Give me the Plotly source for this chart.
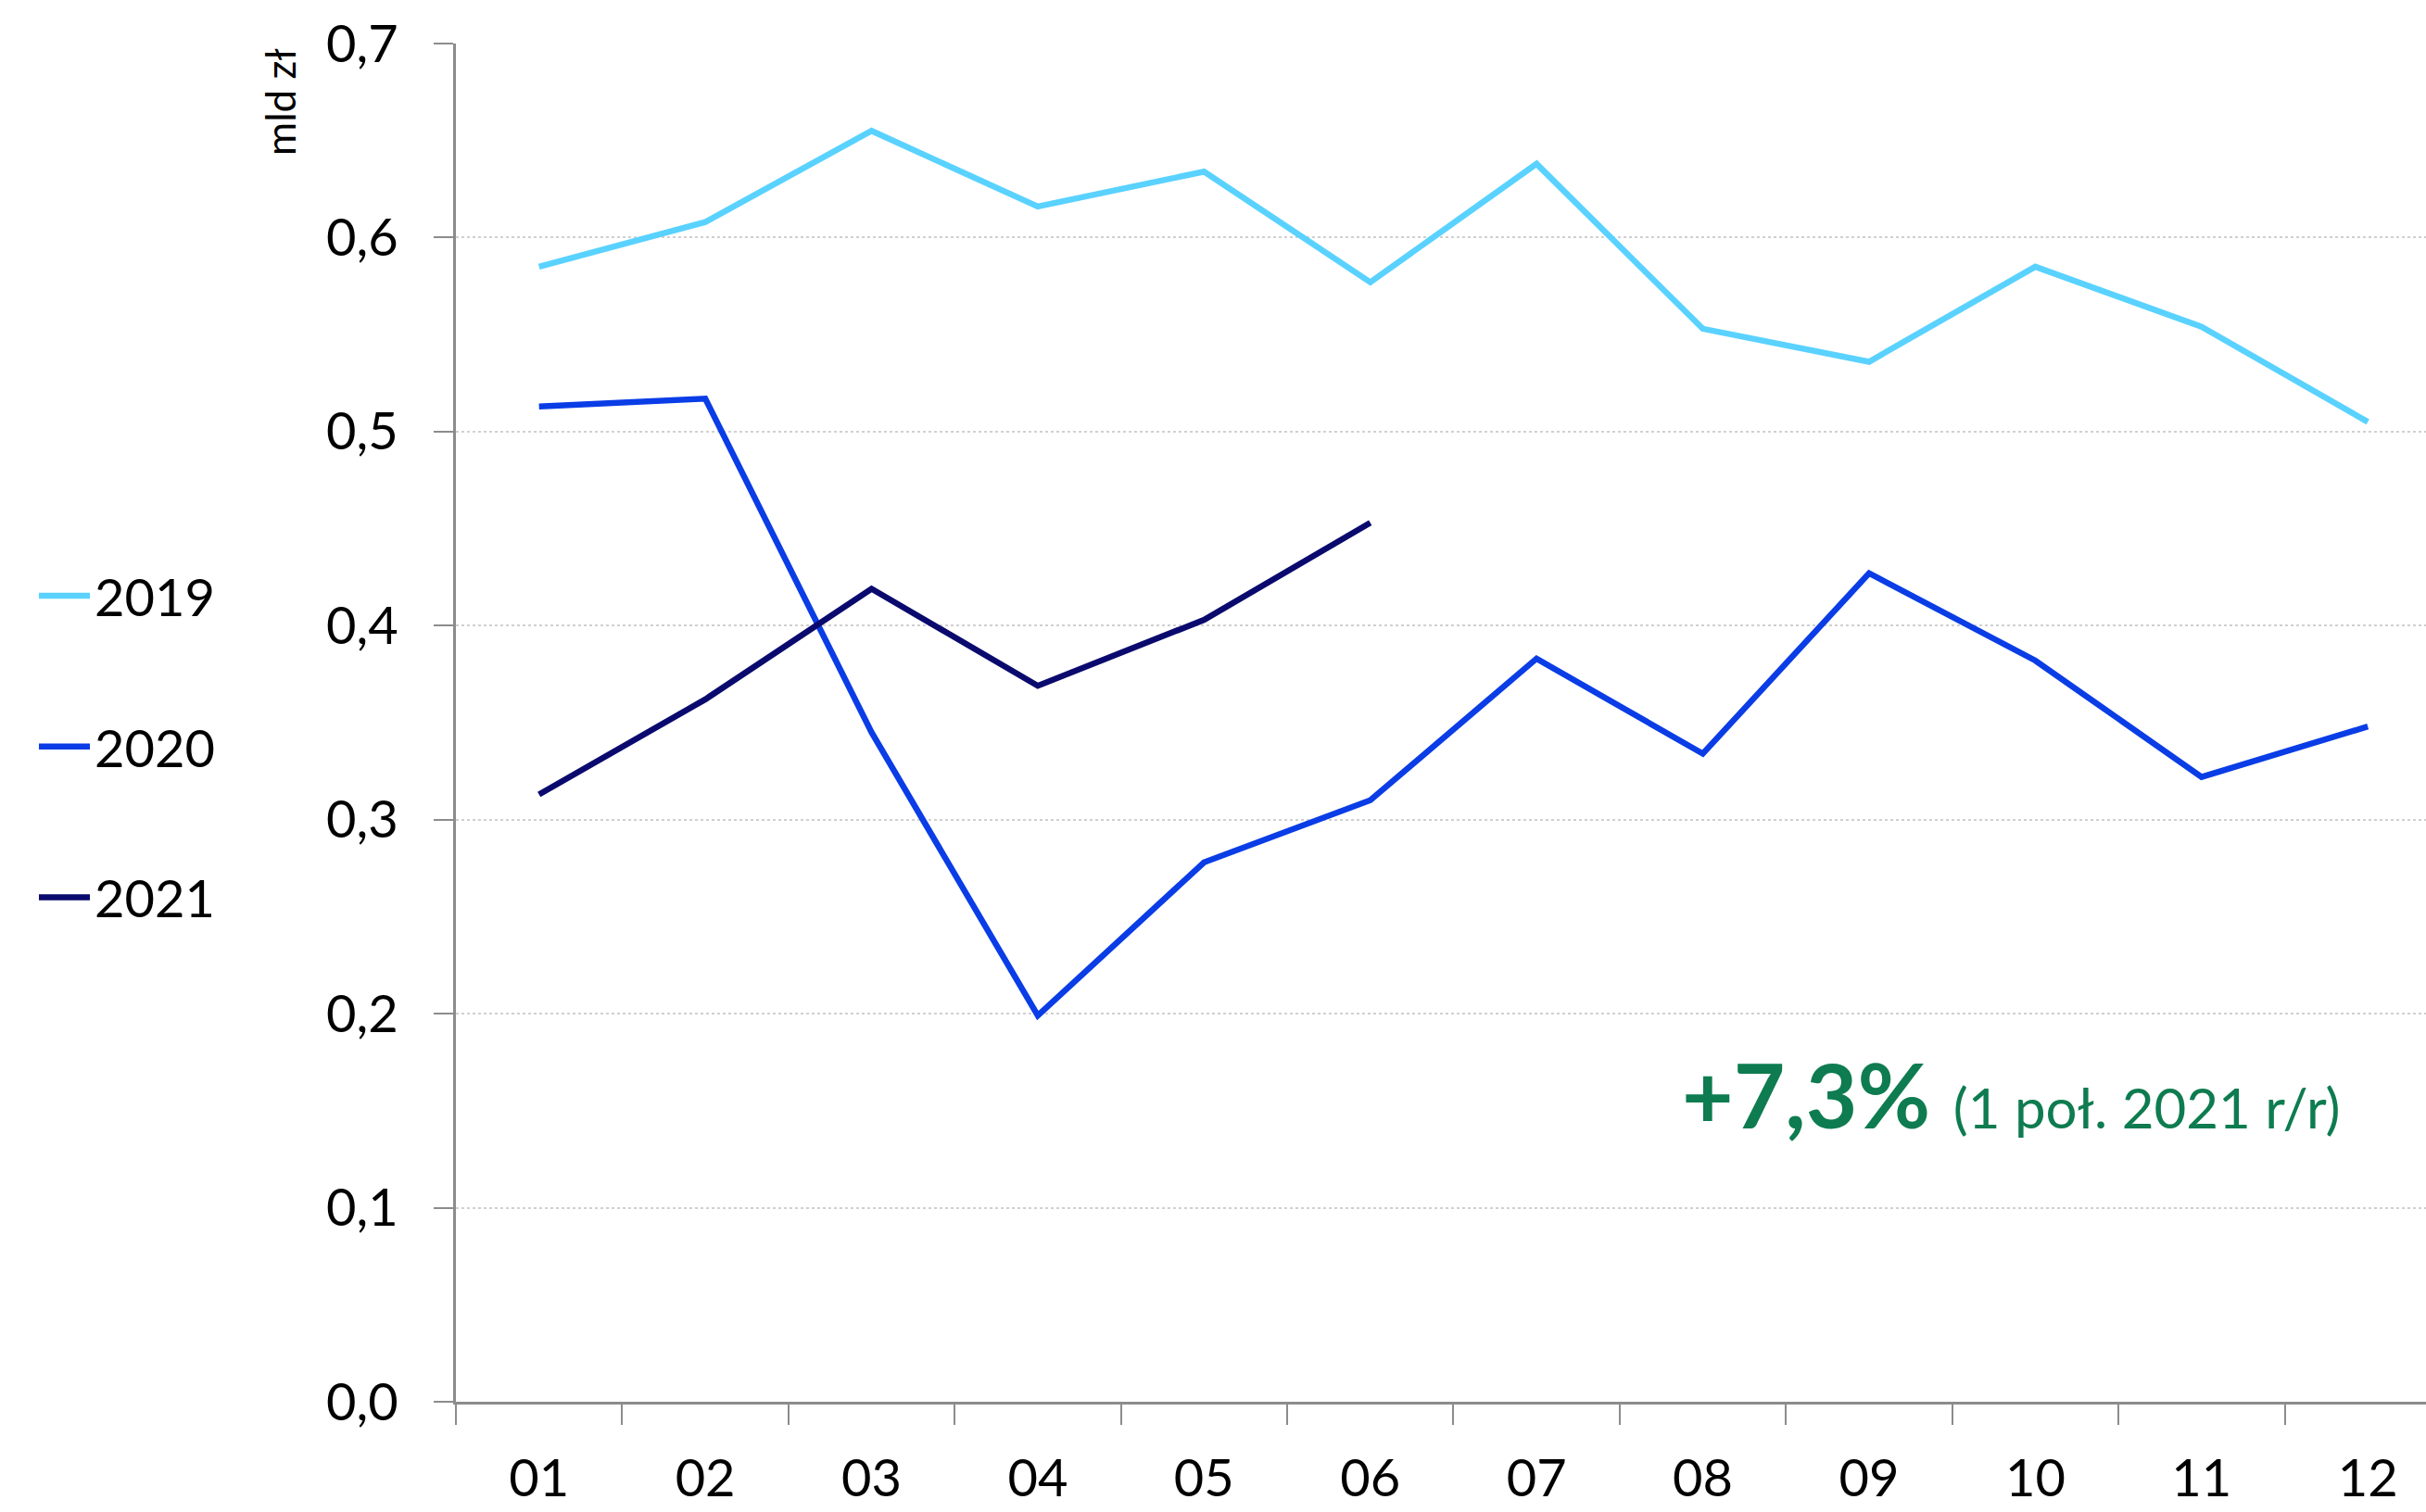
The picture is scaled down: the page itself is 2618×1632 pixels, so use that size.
import plotly.graph_objects as go

months = ["01", "02", "03", "04", "05", "06", "07", "08", "09", "10", "11", "12"]

y2019 = [0.585, 0.608, 0.655, 0.616, 0.634, 0.577, 0.638, 0.553, 0.536, 0.585, 0.554, 0.505]
y2020 = [0.513, 0.517, 0.345, 0.199, 0.278, 0.310, 0.383, 0.334, 0.427, 0.382, 0.322, 0.348]
y2021 = [0.313, 0.362, 0.419, 0.369, 0.403, 0.453]

y_ticks = [0.0, 0.1, 0.2, 0.3, 0.4, 0.5, 0.6, 0.7]
y_tick_labels = ["0,0", "0,1", "0,2", "0,3", "0,4", "0,5", "0,6", "0,7"]

FONT = "Lato"
W, H = 2618, 1632
ML, MR, MT, MB = 492, 0, 47, 119

fig = go.Figure()

series = [
    ("2019", y2019, "#5AD2FF"),
    ("2020", y2020, "#0A3DE6"),
    ("2021", y2021, "#0A0A6E"),
]
for name, vals, color in series:
    fig.add_trace(go.Scatter(
        x=months[:len(vals)],
        y=vals,
        name=name,
        mode="lines",
        line=dict(color=color, width=6.5),
        legendgroup=name))

fig.update_xaxes(
    type="category",
    range=[-0.5, 11.35],
    tickson="boundaries",
    ticks="outside",
    ticklen=22,
    tickwidth=2,
    tickcolor="#8C8C8C",
    ticklabelstandoff=32,
    showline=True,
    linecolor="#8C8C8C",
    linewidth=3,
    showgrid=False,
    tickfont=dict(family=FONT, size=56, color="black"))

fig.update_yaxes(
    range=[0, 0.7],
    tickvals=y_ticks,
    ticktext=y_tick_labels,
    ticks="outside",
    ticklen=21,
    tickwidth=2,
    tickcolor="#8C8C8C",
    ticklabelstandoff=27,
    showline=True,
    linecolor="#8C8C8C",
    linewidth=3,
    showgrid=True,
    gridcolor="#D0D0D0",
    griddash="dot",
    gridwidth=2,
    zeroline=False,
    tickfont=dict(family=FONT, size=56, color="black"))

plot_w = W - ML - MR
plot_h = H - MT - MB

fig.add_annotation(
    text="mld zł",
    textangle=-90,
    xref="paper", yref="paper",
    x=(302 - ML) / plot_w, y=(H - MB - 110) / plot_h,
    xanchor="center", yanchor="middle",
    showarrow=False,
    font=dict(family=FONT, size=44, color="black"))

fig.add_annotation(
    text="<b>+7,3%</b> <span style='font-size:60px'>(1 poł. 2021 r/r)</span>",
    xref="paper", yref="paper",
    x=(2170 - ML) / plot_w, y=(H - MB - 1180) / plot_h,
    xanchor="center", yanchor="middle",
    showarrow=False,
    font=dict(family=FONT, size=96, color="#0E7C50"))

fig.update_layout(
    width=W, height=H,
    margin=dict(l=ML, r=MR, t=MT, b=MB),
    plot_bgcolor="white",
    paper_bgcolor="white",
    font=dict(family=FONT, color="black"),
    showlegend=True,
    legend=dict(
        x=(37 - ML) / plot_w, y=(H - MB - 600) / plot_h,
        xanchor="left", yanchor="top",
        orientation="v",
        itemwidth=55,
        tracegroupgap=87,
        font=dict(family=FONT, size=56, color="black"),
        bgcolor="rgba(0,0,0,0)"))

fig.write_html("out.html", config={"displayModeBar": False},
               post_script="document.body.style.margin='0px';")
